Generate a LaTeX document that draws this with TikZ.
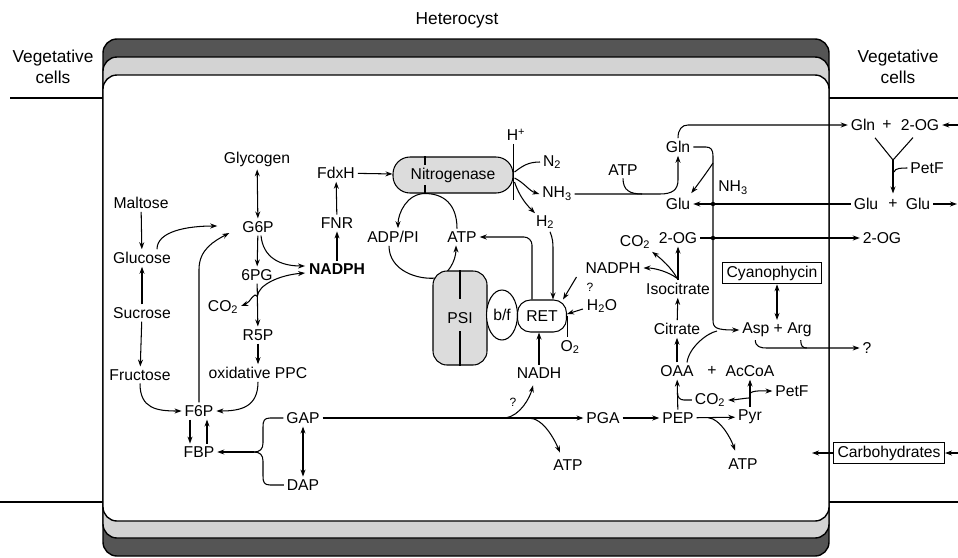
\documentclass[tikz,border=0pt]{standalone}
\usepackage{fontspec}
\setmainfont{Liberation Sans}
\usetikzlibrary{arrows.meta,calc,shapes.geometric}
\definecolor{memdark}{HTML}{555555}
\definecolor{memlight}{HTML}{D3D3D3}
\definecolor{enzfill}{HTML}{DCDCDC}
\begin{document}
\begin{tikzpicture}[x=1pt,y=-1pt,line width=1.05pt,
  font=\fontsize{15.7}{21}\selectfont,
  lbl/.style={inner sep=2.5pt},
  ttl/.style={inner sep=2pt,font=\fontsize{17.3}{21}\selectfont},
  qm/.style={inner sep=1pt,font=\fontsize{12}{14}\selectfont},
  enz/.style={draw,fill=enzfill,inner sep=0pt},
  arr/.style={-{Stealth[length=7pt,width=5pt]}},
  darr/.style={{Stealth[length=7pt,width=5pt]}-{Stealth[length=7pt,width=5pt]}}]
\useasboundingbox (0,0) rectangle (958,557);
% membrane layers
\draw[line width=1.4pt,fill=memdark,rounded corners=14] (103,39) rectangle (829,556);
\draw[line width=1.4pt,fill=memlight,rounded corners=14] (103,57) rectangle (829,538);
\draw[line width=1.4pt,fill=white,rounded corners=14] (103,75) rectangle (829,521);
% vegetative cell borders
\draw[line width=1.4pt] (10,98) -- (103,98);
\draw[line width=1.4pt] (0,502) -- (103,502);
\draw[line width=1.4pt] (829,98) -- (958,98);
\draw[line width=1.4pt] (829,502) -- (958,502);
\node[ttl] (hetero) at (457,20) {Heterocyst};
\node[ttl,align=center] (vegL) at (53,67) {Vegetative\\cells};
\node[ttl,align=center] (vegR) at (898,67) {Vegetative\\cells};
% left part
\node[lbl] (maltose) at (141,203) {Maltose};
\node[lbl] (glucose) at (142,258) {Glucose};
\node[lbl] (sucrose) at (142,313) {Sucrose};
\node[lbl] (fructose) at (140,375) {Fructose};
\node[lbl] (glycogen) at (257,159) {Glycogen};
\node[lbl] (g6p) at (258,227) {G6P};
\node[lbl] (pg6) at (257,275) {6PG};
\node[lbl] (co2a) at (223,307) {CO\textsubscript{2}};
\node[lbl] (r5p) at (258,335) {R5P};
\node[lbl] (oppc) at (258,373) {oxidative PPC};
\node[lbl,font=\fontsize{15.7}{21}\selectfont\bfseries] (nadph) at (337,269) {NADPH};
\node[lbl] (fnr) at (337,223) {FNR};
\node[lbl] (fdxh) at (336,173) {FdxH};
\node[lbl] (f6p) at (199,411) {F6P};
\node[lbl] (fbp) at (199,452) {FBP};
\node[lbl] (gap) at (303,418) {GAP};
\node[lbl] (dap) at (303,485) {DAP};
\node[lbl] (pga) at (603,418) {PGA};
\node[lbl] (pep) at (678,418) {PEP};
\node[lbl] (nadh) at (539,373) {NADH};
\node[lbl] (atp3) at (568,465) {ATP};
\node[qm] (q1) at (513,402) {?};
% middle
\node[lbl] (adp) at (393,237) {ADP/PI};
\node[lbl] (atp1) at (462,237) {ATP};
\coordinate (pc) at (436,278);
\draw[arr] ($(adp.south)+(-4,0)$) .. controls +(0,25) and +(-18,2) .. (pc) .. controls +(12,-2) and +(0,15) .. ($(atp1.south)+(-6,0)$);
\node[enz,minimum width=54,minimum height=94,rounded corners=14] (psi) at (460,318) {PSI};
\draw (psi.north) -- ++(0,29);
\draw (psi.south) -- ++(0,-35);
\node[draw,fill=white,ellipse,minimum width=31,minimum height=50,inner sep=0pt] (bf) at (502,315) {b/f};
\node[draw,fill=white,rounded corners=13,minimum width=49,minimum height=32,inner sep=0pt] (ret) at (542,316) {RET};
\node[enz,minimum width=120,minimum height=36,rounded corners=17] (nitro) at (453,175) {Nitrogenase};
\coordinate (nd) at ($(nitro.south)+(-28,0)$);
\draw ($(nitro.north)+(-28,0)$) -- ++(0,9);
\draw (nd) -- ++(0,-9);
\node[lbl] (hplus) at (516,135) {H\textsuperscript{+}};
\node[lbl] (n2) at (552,162) {N\textsubscript{2}};
\node[lbl] (nh3a) at (557,194) {NH\textsubscript{3}};
\node[lbl] (h2) at (545,222) {H\textsubscript{2}};
\node[lbl] (nadph2) at (613,268) {NADPH};
\node[qm] (q2) at (590,287) {?};
\node[lbl] (h2o) at (602,306) {H\textsubscript{2}O};
\node[lbl] (o2) at (570,347) {O\textsubscript{2}};
% right part
\node[lbl] (atp2) at (623,170) {ATP};
\node[lbl] (gln) at (678,147) {Gln};
\node[lbl] (glu) at (678,204) {Glu};
\node[lbl] (nh3b) at (733,188) {NH\textsubscript{3}};
\node[lbl] (og1) at (678,238) {2-OG};
\node[lbl] (co2b) at (635,242) {CO\textsubscript{2}};
\node[lbl] (isocit) at (678,289) {Isocitrate};
\node[lbl] (citrate) at (677,329) {Citrate};
\node[lbl] (oaa) at (677,371) {OAA};
\node[lbl] (plus1) at (712,371) {+};
\node[lbl] (accoa) at (750,371) {AcCoA};
\node[lbl] (co2c) at (710,400) {CO\textsubscript{2}};
\node[lbl] (pyr) at (750,417) {Pyr};
\node[lbl] (petf1) at (792,391) {PetF};
\node[lbl] (atp4) at (743,464) {ATP};
\node[draw,inner xsep=4pt,inner ysep=3.5pt] (cyano) at (772,273) {Cyanophycin};
\node[lbl] (asp) at (777,330) {Asp + Arg};
\node[lbl] (q3) at (867,348) {?};
\node[lbl] (gln2) at (863,125) {Gln};
\node[lbl] (plus2) at (887,125) {+};
\node[lbl] (og2) at (920,125) {2-OG};
\node[lbl] (petf2) at (927,168) {PetF};
\node[lbl] (glu2) at (866,204) {Glu};
\node[lbl] (plus3) at (893,204) {+};
\node[lbl] (glu3) at (918,204) {Glu};
\node[lbl] (og3) at (882,238) {2-OG};
\node[draw,inner xsep=4pt,inner ysep=3.5pt] (carbo) at (889,453) {Carbohydrates};
% ---- connectors: left
\draw[arr] (maltose) -- (glucose);
\draw[arr] (sucrose) -- (glucose);
\draw[arr] (sucrose) -- (fructose);
\draw[darr] (glycogen) -- (g6p);
\draw[arr] (g6p) -- (pg6);
\draw[arr] (pg6) -- (r5p);
\draw[arr] (r5p) -- (oppc);
\draw[arr] (nadph) -- (fnr);
\draw[arr] (fnr) -- (fdxh);
\draw[arr] (fdxh) -- (nitro);
\draw[arr] ($(glucose.north)+(15,0)$) .. controls +(0,-18) and +(-30,0) .. ($(g6p.west)+(-22,-1)$);
\draw[arr] (f6p.north) -- ($(f6p.north)+(0,-133)$) .. controls +(0,-20) and +(-15,8) .. ($(g6p.west)+(-10,6)$);
\draw[arr] ($(g6p.south)+(3,0)$) .. controls +(2,22) and +(-25,0) .. ($(nadph.west)+(-1,-3)$);
\coordinate (j6) at ($(pg6.south)!0.3!(r5p.north)$);
\draw[arr] (j6) .. controls +(-4,-5) and +(10,-4) .. ($(co2a.east)+(0,-1)$);
\draw[arr] (j6) .. controls +(1,-12) and +(-25,2) .. ($(nadph.west)+(-1,4)$);
\draw[arr] ($(f6p.south)+(-9,0)$) -- ($(fbp.north)+(-9,0)$);
\draw[arr] ($(fbp.north)+(8,0)$) -- ($(f6p.south)+(8,0)$);
\draw[arr] (fructose.south) .. controls +(0,25) and +(-25,0) .. (f6p.west);
\draw[arr] (oppc.south) .. controls +(0,25) and +(25,0) .. (f6p.east);
\coordinate (jb) at (254,452);
\draw (gap.west) -- (270,418) .. controls (264,418) and (263,421) .. (263,427) -- (263,443) .. controls (263,449) and (260,452) .. (jb);
\draw (dap.west) -- (270,485) .. controls (264,485) and (263,482) .. (263,476) -- (263,461) .. controls (263,455) and (260,452) .. (jb);
\draw[arr] (jb) -- (fbp.east);
\draw[darr] (gap) -- (dap);
\draw[arr] (gap) -- (pga);
\draw[arr] (pga) -- (pep);
\coordinate (jn) at ($(gap.east)!0.70!(pga.west)$);
\coordinate (ja) at ($(gap.east)!0.79!(pga.west)$);
\draw[arr] (jn) .. controls +(15,-2) and +(-3,12) .. ($(nadh.south)+(-6,4)$);
\draw[arr] (ja) .. controls +(15,0) and +(-5,-12) .. ($(atp3.north)+(-8,-4)$);
\draw[arr] (nadh.north) -- (nadh.north |- ret.south);
% ---- middle
\draw[arr] ($(atp1.north)+(-5,0)$) .. controls +(0,-25) and +(18,0) .. (nd) .. controls +(-18,0) and +(0,-15) .. ($(adp.north)+(5,0)$);
\draw[arr,rounded corners=8] ($(ret.north)+(-10,0)$) |- (atp1.east);
\draw[arr] ($(h2.south)+(5,0)$) .. controls +(3,8) and +(0,-10) .. ($(h2.south)+(8,20)$) -- ($(ret.north)+(11,0)$);
\draw[arr] ($(nadph2.west)+(-6,9)$) -- ($(ret.north east)+(-4,0)$);
\draw[arr] ($(h2o.west)+(-1,3)$) -- ($(ret.east)+(0,-2)$);
\draw (ret.east) -- (ret.east |- o2.north);
\draw (hplus.south -| nitro.east) -- ($(nitro.east)+(0,25)$);
\draw (n2.west) .. controls +(-12,0) and +(8,-6) .. ($(nitro.east)+(1,-3)$);
\draw[arr] ($(nitro.east)+(1,3)$) .. controls +(10,5) and +(-10,-3) .. (nh3a.west);
\draw[arr] ($(nitro.east)+(1,7)$) .. controls +(5,15) and +(-8,-8) .. ($(h2.north west)+(2,1)$);
% ---- right
\coordinate (jt) at (642,194);
\draw[arr] (nh3a.east) -- (660,194) .. controls (672,194) and (678,190) .. (678,180) -- (gln.south);
\draw (atp2.south) .. controls +(0,12) and +(-12,0) .. (jt);
\coordinate (gx) at (713,163);
\draw[arr] (gln.east) -- (706,147) .. controls (711,147) and (713,150) .. (713,156) -- (713,320) .. controls (713,328) and (716,330) .. (asp.west);
\draw[arr] (gx) .. controls +(-8,12) and +(6,-8) .. ($(glu.north east)+(-2,-2)$);
\draw[arr] (glu2.west) -- (glu.east);
\draw[arr] (og1.east) -- (og3.west);
\fill (713,204) circle (2.2);
\fill (713,238) circle (2.2);
\draw[arr] (gln.north) .. controls +(0,-9) and +(-6,0) .. (688,125) -- (gln2.west);
\coordinate (re1) at (958,125);
\draw[arr] (re1) -- (og2.east);
\coordinate (yj) at (893,160);
\draw ($(gln2.south)+(12,4)$) -- (yj) -- ($(og2.south)+(-7,4)$);
\draw[arr] (yj) -- ($(plus3.north)+(0,-3)$);
\draw ($(yj)+(1,12)$) .. controls +(1,-4) and +(-6,0) .. (petf2.west);
\coordinate (re2) at (957,204);
\draw[arr] (glu3.east) -- (re2);
\draw[arr] (isocit.north) -- (og1.south);
\coordinate (jc) at ($(isocit.north)+(-1,-2)$);
\draw[arr] (jc) .. controls +(-5,-10) and +(8,6) .. ($(co2b.south east)+(-1,0)$);
\draw[arr] (jc) .. controls +(-8,-6) and +(12,0) .. (nadph2.east);
\draw[arr] (citrate) -- (isocit);
\draw[arr] (oaa) -- (citrate);
\draw ($(oaa.north)+(10,0)$) .. controls +(2,-15) and +(-10,2) .. (717,331);
\draw[darr] (asp.north |- cyano.south) -- (asp.north);
\draw[arr] ($(asp.south west)+(16,0)$) .. controls +(0,7) and +(-5,0) .. ($(asp.south west |- q3.west)+(27,0)$) -- (q3.west);
\draw ($(asp.south east)+(-14,0)$) .. controls +(0,6) and +(-4,0) .. ($(asp.south east |- q3.west)+(-8,0)$);
\draw[arr] (pep) -- (oaa);
\draw (co2c.west) -- ++(-8,0) .. controls +(-4,0) and +(0,4) .. ($(pep.north)!0.55!(oaa.south)$);
\draw[arr] (pep) -- (pyr);
\coordinate (jp) at ($(pep.east)!0.3!(pyr.west)$);
\draw[arr] (jp) .. controls +(12,1) and +(-4,-12) .. ($(atp4.north)+(-8,-5)$);
\draw[arr] (pyr.north) -- (pyr.north |- accoa.south);
\coordinate (jy) at ($(pyr.north)+(0,-9)$);
\draw[arr] (jy) .. controls +(-4,0) and +(6,0) .. (co2c.east);
\draw[arr] ($(jy)+(0,-4)$) .. controls +(1,-4) and +(-8,0) .. (petf1.west);
\coordinate (ci) at (812,453);
\draw[arr] (carbo.west) -- (ci);
\coordinate (ce) at (958,453);
\draw[arr] (ce) -- (carbo.east);
\end{tikzpicture}
\end{document}
